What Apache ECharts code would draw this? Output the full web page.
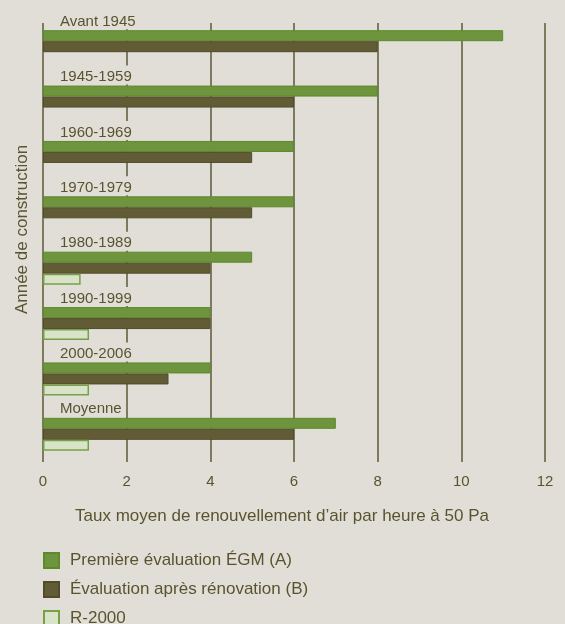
<!DOCTYPE html>
<html>
<head>
<meta charset="utf-8">
<script src="https://cdn.jsdelivr.net/npm/echarts@6/dist/echarts.min.js"></script>
<style>
  html, body { margin: 0; padding: 0; background: #e1ded7; }
  #chart { width: 565px; height: 624px; }
</style>
</head>
<body>
<div id="chart"></div>
<script>
// categories, top to bottom
var categories = ['Avant 1945', '1945-1959', '1960-1969', '1970-1979', '1980-1989', '1990-1999', '2000-2006', 'Moyenne']
// taux moyen de renouvellement d'air (CAH à 50 Pa)
var evalA = [11, 8, 6, 6, 5, 4, 4, 7]
var evalB = [8, 6, 5, 5, 4, 4, 3, 6]
var r2000 = [null, null, null, null, 0.9, 1.1, 1.1, 1.1]
var xTicks = [0, 2, 4, 6, 8, 10, 12]

var txt = '#59542f'
var font = "'Liberation Sans', Arial, sans-serif"

var chart = echarts.init(document.getElementById('chart'))
var option = {
    backgroundColor: '#e1ded7',
    animation: false,
    textStyle: { fontFamily: font, color: txt },
    grid: [
        // bars
        { left: 43, right: 20, top: 19, bottom: 162 },
        // grid lines + x labels
        { left: 43, right: 20, top: 23, bottom: 162 }
    ],
    xAxis: [
        { gridIndex: 0, type: 'value', min: xTicks[0], max: xTicks[xTicks.length - 1], interval: 2, show: false },
        {
            gridIndex: 1,
            type: 'value',
            min: xTicks[0],
            max: xTicks[xTicks.length - 1],
            interval: 2,
            axisLine: { show: false },
            axisTick: { show: false },
            splitLine: { show: true, lineStyle: { color: '#5d5838', width: 1.5 } },
            axisLabel: { color: txt, fontSize: 15, fontFamily: font, margin: 12 },
            name: 'Taux moyen de renouvellement d’air par heure à 50 Pa',
            nameLocation: 'middle',
            nameGap: 46,
            nameTextStyle: { color: txt, fontSize: 17, fontFamily: font, padding: [0, 24, 0, 0] }
        }
    ],
    yAxis: [
        {
            gridIndex: 0,
            type: 'category',
            inverse: true,
            data: categories,
            axisLine: { show: false },
            axisTick: { show: false },
            axisLabel: { show: false },
            name: 'Année de construction',
            nameLocation: 'middle',
            nameGap: 12,
            nameTextStyle: { color: txt, fontSize: 17, fontFamily: font, padding: [0, 0, 0, 22] }
        },
        { gridIndex: 1, type: 'value', show: false }
    ],
    legend: {
        orient: 'vertical',
        left: 43,
        top: 552,
        height: 90,
        padding: 0,
        itemWidth: 15,
        itemHeight: 15,
        itemGap: 12,
        icon: 'rect',
        selectedMode: false,
        textStyle: { color: txt, fontSize: 17, lineHeight: 17, fontFamily: font, padding: [0, 0, 0, 6] }
    },
    series: [
        {
            name: 'Première évaluation ÉGM (A)',
            type: 'bar',
            xAxisIndex: 0,
            yAxisIndex: 0,
            data: evalA,
            barWidth: 11,
            barGap: '0%',
            itemStyle: { color: '#6e943d', borderColor: '#5c8a2c', borderWidth: 1 },
            label: {
                show: true,
                formatter: '{b}',
                position: [14, -1],
                verticalAlign: 'bottom',
                color: txt,
                fontSize: 15,
                fontFamily: font,
                backgroundColor: '#e1ded7',
                padding: [4, 3, 0, 3]
            }
        },
        {
            name: 'Évaluation après rénovation (B)',
            type: 'bar',
            xAxisIndex: 0,
            yAxisIndex: 0,
            data: evalB,
            barWidth: 11,
            barGap: '0%',
            itemStyle: { color: '#625c36', borderColor: '#514b2b', borderWidth: 1 }
        },
        {
            name: 'R-2000',
            type: 'bar',
            xAxisIndex: 0,
            yAxisIndex: 0,
            data: r2000,
            barWidth: 11,
            barGap: '0%',
            itemStyle: { color: '#d9e3c8', borderColor: '#78a04a', borderWidth: 1.5 }
        }
    ]
}
chart.setOption(option)
</script>
</body>
</html>
